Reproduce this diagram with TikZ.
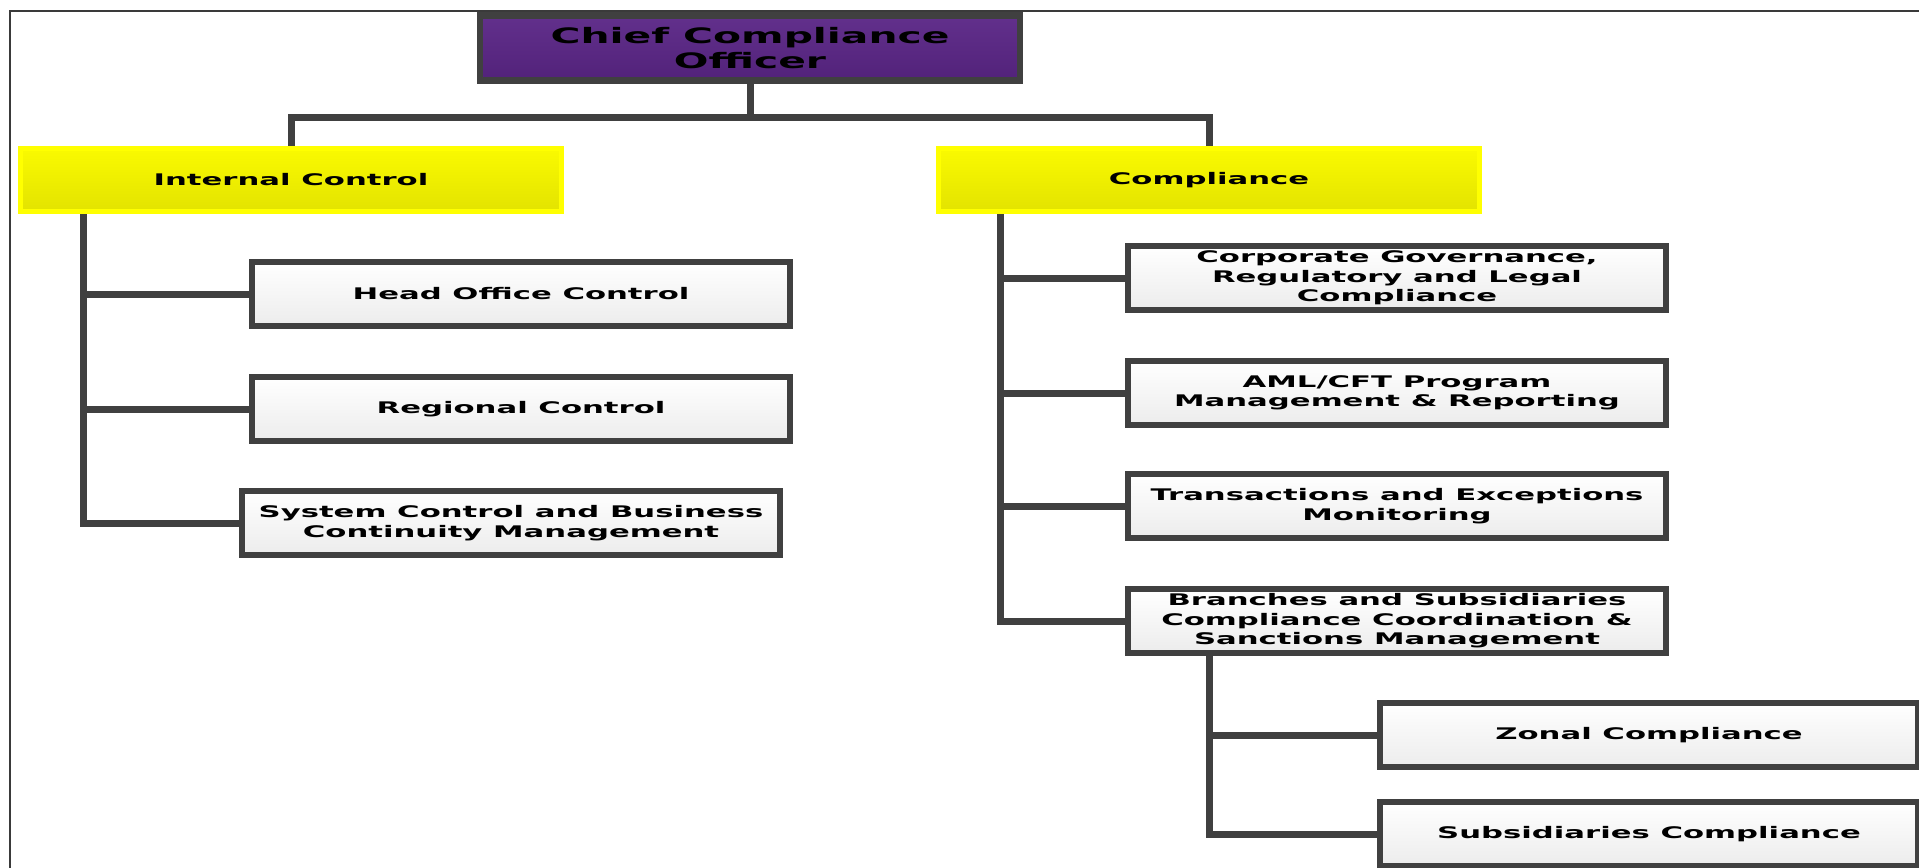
\documentclass[tikz,border=0pt]{standalone}
\usepackage{fontspec}
\usepackage{tikz}
\usetikzlibrary{positioning,calc}
\newfontfamily\orgfont{DejaVu Sans}[FakeStretch=1.92]
\definecolor{linegray}{HTML}{404040}
\definecolor{framegray}{HTML}{3A3A3A}
\definecolor{purpletop}{HTML}{62308C}
\definecolor{purplebot}{HTML}{52227A}
\definecolor{yellowtop}{HTML}{FAFA00}
\definecolor{yellowbot}{HTML}{E3E300}
\definecolor{yellowedge}{HTML}{FFFF00}
\definecolor{greybot}{HTML}{ECECEC}
\tikzset{
    ccobox/.style={
        draw=linegray, top color=purpletop, bottom color=purplebot, line width=0.13cm,
        minimum width=10.8cm, minimum height=1.3cm, inner sep=0pt,
        font=\orgfont\bfseries\fontsize{12.1}{14.2}\selectfont, align=center
    },
    deptbox/.style={
        draw=yellowedge, top color=yellowtop, bottom color=yellowbot, line width=0.11cm,
        minimum width=10.82cm, minimum height=1.26cm, inner sep=0pt,
        font=\orgfont\bfseries\fontsize{9.1}{11.1}\selectfont, align=center
    },
    unitbox/.style={
        draw=linegray, top color=white, bottom color=greybot, line width=0.13cm,
        minimum width=10.76cm, minimum height=1.28cm, inner sep=0pt,
        font=\orgfont\bfseries\fontsize{9.1}{11.1}\selectfont, align=center
    },
    link/.style={draw=linegray, line width=0.14cm},
    pageframe/.style={draw=framegray, line width=0.03cm},
}
\begin{document}
\begin{tikzpicture}[x=0.02cm, y=-0.02cm]
    \useasboundingbox (0,0) rectangle (1919,867);
    \clip (0,0) rectangle (1919,867);
    \draw[pageframe] (10,11) rectangle (1960,900);

    \node[ccobox] (cco) at (750,48) {Chief Compliance\\Officer};
    \node[deptbox] (ic) at (291,180) {Internal Control};
    \node[deptbox] (comp) at (1209,180) {Compliance};

    \node[unitbox] (hoc) at (521,294) {Head Office Control};
    \node[unitbox] (rc) at (521,409) {Regional Control};
    \node[unitbox] (scb) at (511,523) {System Control and Business\\Continuity Management};

    \node[unitbox] (cgr) at (1397,278) {Corporate Governance,\\Regulatory and Legal\\Compliance};
    \node[unitbox] (aml) at (1397,393) {AML/CFT Program\\Management \& Reporting};
    \node[unitbox] (tem) at (1397,506) {Transactions and Exceptions\\Monitoring};
    \node[unitbox] (bsc) at (1397,621) {Branches and Subsidiaries\\Compliance Coordination \&\\Sanctions Management};

    \node[unitbox] (zon) at (1649,735) {Zonal Compliance};
    \node[unitbox] (sub) at (1649,834) {Subsidiaries Compliance};

    % top level
    \draw[link] (cco.south) -- ++(0,34) coordinate (bus);
    \draw[link] (ic.north) |- (bus) -| (comp.north);

    % internal control
    \coordinate (ltrunk) at ($(ic.south west)+(66,0)$);
    \draw[link] (ltrunk) |- (scb.west);
    \draw[link] (hoc.west) -- (hoc.west -| ltrunk);
    \draw[link] (rc.west) -- (rc.west -| ltrunk);

    % compliance
    \coordinate (rtrunk) at ($(comp.south west)+(65,0)$);
    \draw[link] (rtrunk) |- (bsc.west);
    \draw[link] (cgr.west) -- (cgr.west -| rtrunk);
    \draw[link] (aml.west) -- (aml.west -| rtrunk);
    \draw[link] (tem.west) -- (tem.west -| rtrunk);

    \coordinate (strunk) at ($(bsc.south west)+(85,0)$);
    \draw[link] (strunk) |- (sub.west);
    \draw[link] (zon.west) -- (zon.west -| strunk);
\end{tikzpicture}
\end{document}
